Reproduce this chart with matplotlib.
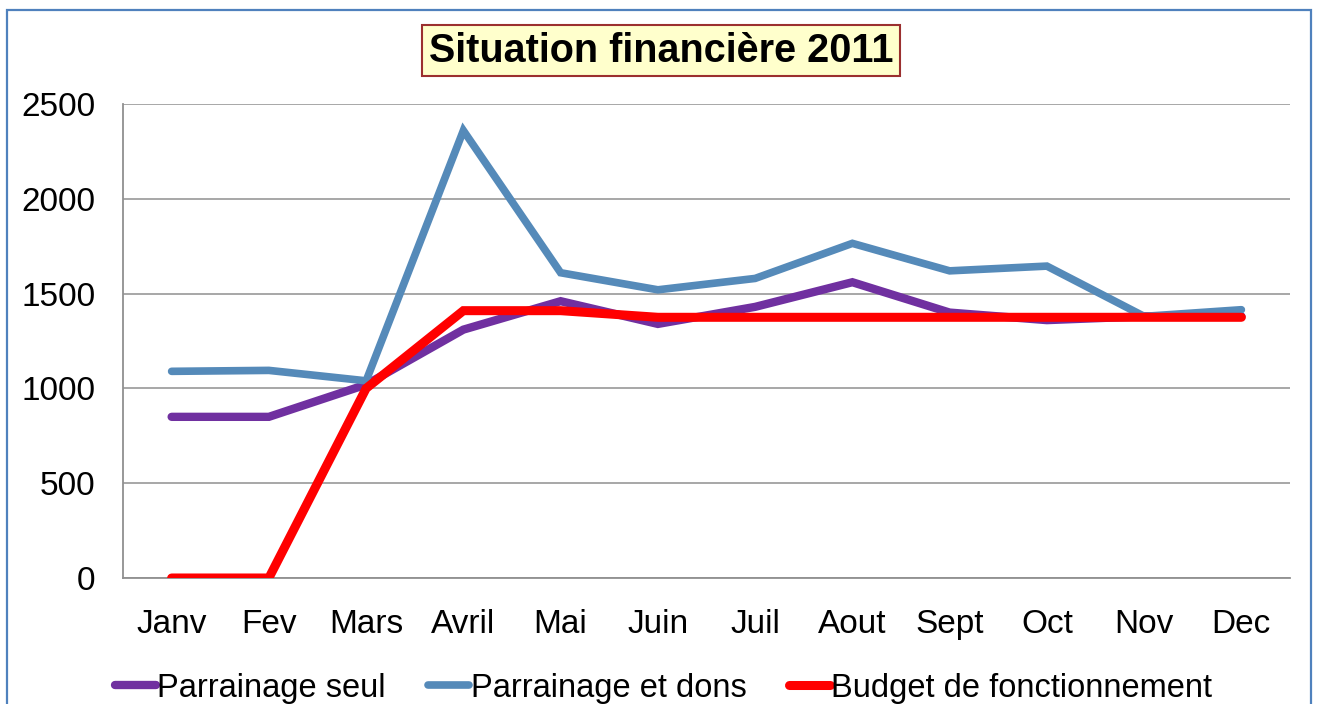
import matplotlib
matplotlib.use("Agg")
import matplotlib.pyplot as plt
from matplotlib.patches import Rectangle

plt.rcParams['font.family'] = ['Liberation Sans', 'DejaVu Sans']

months = ["Janv", "Fev", "Mars", "Avril", "Mai", "Juin", "Juil", "Aout", "Sept", "Oct", "Nov", "Dec"]
parrainage_seul = [850, 850, 1020, 1310, 1460, 1340, 1430, 1560, 1400, 1360, 1380, 1380]
parrainage_dons = [1090, 1095, 1040, 2360, 1610, 1520, 1580, 1765, 1620, 1645, 1380, 1415]
budget = [0, 0, 1000, 1410, 1410, 1375, 1375, 1375, 1375, 1375, 1375, 1375]
yticks = [0, 500, 1000, 1500, 2000, 2500]
title = "Situation financière 2011"

W, H = 1317, 704
fig = plt.figure(figsize=(W / 100, H / 100), dpi=100)

# outer border
fig.patches.append(Rectangle((7 / W, -0.02), (1311 - 7) / W, 1 - 10 / H + 0.02,
                             transform=fig.transFigure, fill=False,
                             edgecolor="#4F81BD", linewidth=1.6))

ax = fig.add_axes([123 / W, 1 - 578 / H, (1290 - 123) / W, (578 - 104) / H])
x = list(range(len(months)))
ax.plot(x, parrainage_seul, color="#7030A0", lw=6.0, solid_capstyle="round",
        solid_joinstyle="miter", label="Parrainage seul", zorder=3)
ax.plot(x, parrainage_dons, color="#558AB9", lw=5.5, solid_capstyle="round",
        solid_joinstyle="miter", label="Parrainage et dons", zorder=4)
ax.plot(x, budget, color="#FF0000", lw=6.5, solid_capstyle="round",
        solid_joinstyle="miter", label="Budget de fonctionnement", zorder=5)

ax.set_xlim(-0.5, len(months) - 0.5)
ax.set_ylim(0, 2500)
ax.set_yticks(yticks)
ax.set_xticks(x)
ax.set_xticklabels(months)
ax.yaxis.grid(True, color="#A0A0A0", linewidth=1.3)
ax.set_axisbelow(True)
for s in ["top", "right"]:
    ax.spines[s].set_visible(False)
for s in ["left", "bottom"]:
    ax.spines[s].set_color("#909090")
    ax.spines[s].set_linewidth(1.3)
ax.tick_params(axis="both", length=0, labelsize=24)
ax.tick_params(axis="y", pad=20)
ax.tick_params(axis="x", pad=22)

# title box
x0, x1, y0, y1 = 422, 900, 25, 76
fig.patches.append(Rectangle((x0 / W, 1 - y1 / H), (x1 - x0) / W, (y1 - y0) / H,
                             transform=fig.transFigure, facecolor="#FFFFCC",
                             edgecolor="#9B2F2F", linewidth=1.5))
fig.text((x0 + x1) / 2 / W, 1 - (y0 + y1 + 2) / 2 / H, title, ha="center", va="center",
         fontsize=28.5, fontweight="bold", color="black")

leg = fig.legend(loc="center left", bbox_to_anchor=(115 / W, 1 - 688 / H), ncol=3,
                 frameon=False, fontsize=23.5, handlelength=1.25, handletextpad=0.05,
                 columnspacing=1.3, borderaxespad=0, borderpad=0)

fig.savefig("out.png", dpi=100)
